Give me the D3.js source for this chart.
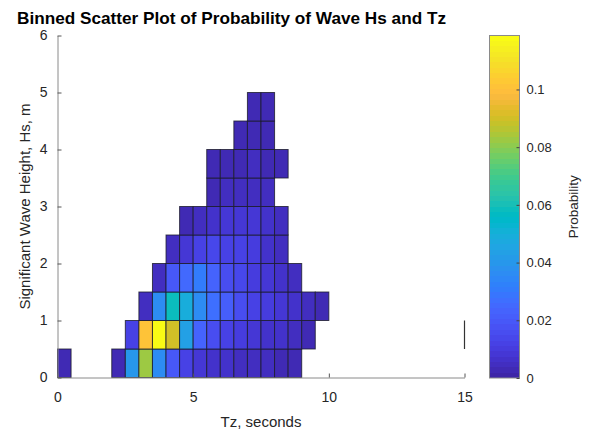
<!DOCTYPE html>
<html>
<head>
<meta charset="utf-8">
<script src="https://cdn.jsdelivr.net/npm/d3@7"></script>
<style>
  html, body { margin: 0; padding: 0; background: #fff; }
  svg { display: block; font-family: "Liberation Sans", Arial, Helvetica, sans-serif; }
</style>
</head>
<body>
<svg id="chart" width="593" height="432"></svg>
<script>
// ---------------- data ----------------
const binWidth = 0.5;            // Tz bin width, seconds
const binHeight = 0.5;           // Hs bin height, m
const rowHs = [0, 0.5, 1, 1.5, 2, 2.5, 3, 3.5, 4, 4.5];       // lower Hs edge of each row
const rowTzStart = [2, 2.5, 3, 3.5, 4, 4.5, 5.5, 5.5, 6.5, 7]; // lower Tz edge of first bin in each row
const rowProb = [
  [0.003, 0.040, 0.083, 0.036, 0.020, 0.012, 0.008, 0.007, 0.006, 0.005, 0.005, 0.004, 0.003, 0.002],
  [0.012, 0.101, 0.1187, 0.090, 0.043, 0.024, 0.016, 0.012, 0.010, 0.008, 0.007, 0.006, 0.005, 0.003],
  [0.005, 0.036, 0.058, 0.050, 0.037, 0.026, 0.022, 0.015, 0.012, 0.010, 0.008, 0.006, 0.004, 0.003],
  [0.005, 0.019, 0.025, 0.030, 0.023, 0.015, 0.013, 0.011, 0.009, 0.007, 0.005],
  [0.004, 0.008, 0.012, 0.013, 0.012, 0.012, 0.010, 0.007, 0.005],
  [0.003, 0.005, 0.006, 0.008, 0.008, 0.009, 0.006, 0.004],
  [0.003, 0.004, 0.005, 0.005, 0.004],
  [0.002, 0.003, 0.003, 0.004, 0.003, 0.002],
  [0.002, 0.003, 0.003],
  [0.002, 0.002]
];
// isolated bins outside the main block
const extraTz = [0];
const extraHs = [0];
const extraProb = [0.002];
// zero-width bin at the right edge of the Tz range
const edgeTz = [15];
const edgeHs = [0.5];

const xTicks = [0, 5, 10, 15];
const yTicks = [0, 1, 2, 3, 4, 5, 6];
const cTicks = [0, 0.02, 0.04, 0.06, 0.08, 0.1];
const xDomain = [0, 15];
const yDomain = [0, 6];

const titleText = "Binned Scatter Plot of Probability of Wave Hs and Tz";
const xLabel = "Tz, seconds";
const yLabel = "Significant Wave Height, Hs, m";
const cLabel = "Probability";

// MATLAB parula colormap (64 entries)
const parula = [[0.2422,0.1504,0.6603],[0.2504,0.1650,0.7076],[0.2578,0.1818,0.7511],[0.2647,0.1978,0.7952],[0.2706,0.2147,0.8364],[0.2751,0.2342,0.8710],[0.2783,0.2559,0.8991],[0.2803,0.2782,0.9221],[0.2813,0.3006,0.9414],[0.2810,0.3228,0.9579],[0.2795,0.3447,0.9717],[0.2760,0.3667,0.9829],[0.2699,0.3892,0.9906],[0.2602,0.4123,0.9952],[0.2440,0.4358,0.9988],[0.2206,0.4603,0.9973],[0.1963,0.4847,0.9892],[0.1834,0.5074,0.9798],[0.1786,0.5289,0.9682],[0.1764,0.5499,0.9520],[0.1687,0.5703,0.9359],[0.1540,0.5902,0.9218],[0.1460,0.6091,0.9079],[0.1380,0.6276,0.8973],[0.1248,0.6459,0.8883],[0.1113,0.6635,0.8763],[0.0952,0.6798,0.8598],[0.0689,0.6948,0.8394],[0.0297,0.7082,0.8163],[0.0036,0.7203,0.7917],[0.0067,0.7312,0.7660],[0.0433,0.7411,0.7394],[0.0964,0.7500,0.7120],[0.1408,0.7584,0.6842],[0.1717,0.7670,0.6554],[0.1938,0.7758,0.6251],[0.2161,0.7843,0.5923],[0.2470,0.7918,0.5567],[0.2906,0.7973,0.5188],[0.3406,0.8008,0.4789],[0.3909,0.8029,0.4354],[0.4456,0.8024,0.3909],[0.5044,0.7993,0.3480],[0.5616,0.7942,0.3045],[0.6174,0.7876,0.2612],[0.6720,0.7793,0.2227],[0.7242,0.7698,0.1910],[0.7738,0.7598,0.1646],[0.8203,0.7498,0.1535],[0.8634,0.7406,0.1596],[0.9035,0.7330,0.1774],[0.9393,0.7288,0.2100],[0.9728,0.7298,0.2394],[0.9956,0.7434,0.2371],[0.9970,0.7659,0.2199],[0.9952,0.7893,0.2028],[0.9892,0.8136,0.1885],[0.9786,0.8386,0.1766],[0.9676,0.8639,0.1643],[0.9610,0.8890,0.1537],[0.9597,0.9135,0.1423],[0.9628,0.9373,0.1265],[0.9691,0.9606,0.1064],[0.9769,0.9839,0.0805]];

// ---------------- build table ----------------
const cells = [];
rowHs.forEach((hs, r) => {
  rowProb[r].forEach((p, i) => {
    cells.push({ tz0: rowTzStart[r] + i * binWidth, tz1: rowTzStart[r] + (i + 1) * binWidth, hs0: hs, hs1: hs + binHeight, p });
  });
});
extraTz.forEach((tz, i) => cells.push({ tz0: tz, tz1: tz + binWidth, hs0: extraHs[i], hs1: extraHs[i] + binHeight, p: extraProb[i] }));

const pMax = d3.max(cells, d => d.p);
const parulaColors = parula.map(c => d3.rgb(c[0] * 255, c[1] * 255, c[2] * 255));
const parulaInterp = t => parulaColors[Math.max(0, Math.min(63, Math.floor(t * 64)))].formatHex();
const color = d3.scaleSequential(parulaInterp).domain([0, pMax]);

// ---------------- layout ----------------
const svg = d3.select("#chart");
const plot = { left: 57.5, right: 464.5, top: 35.5, bottom: 377.5 };
const cbar = { left: 489.5, right: 519.5, top: 35.5, bottom: 378 };
const axisColor = "#8a8a8a";
const textColor = "#262626";

const x = d3.scaleLinear().domain(xDomain).range([plot.left, plot.right]);
const y = d3.scaleLinear().domain(yDomain).range([plot.bottom, plot.top]);

// tiles
svg.append("g").selectAll("rect").data(cells).join("rect")
  .attr("x", d => x(d.tz0))
  .attr("y", d => y(d.hs1))
  .attr("width", d => x(d.tz1) - x(d.tz0))
  .attr("height", d => y(d.hs0) - y(d.hs1))
  .attr("fill", d => color(d.p))
  .attr("stroke", "#1c1c2a")
  .attr("stroke-opacity", 0.8)
  .attr("stroke-width", 1);

// zero-width edge bin
svg.append("g").selectAll("line").data(edgeTz).join("line")
  .attr("x1", d => x(d)).attr("x2", d => x(d))
  .attr("y1", (d, i) => y(edgeHs[i])).attr("y2", (d, i) => y(edgeHs[i] + binHeight))
  .attr("stroke", "#333").attr("stroke-width", 1.2);

// axes
const xAxis = d3.axisBottom(x).tickValues(xTicks).tickSizeInner(-4).tickSizeOuter(0).tickPadding(10).tickFormat(d3.format("d"));
const yAxis = d3.axisLeft(y).tickValues(yTicks).tickSizeInner(-4).tickSizeOuter(0).tickPadding(10).tickFormat(d3.format("d"));

const gx = svg.append("g").attr("transform", `translate(0,${plot.bottom})`).call(xAxis);
const gy = svg.append("g").attr("transform", `translate(${plot.left},0)`).call(yAxis);
[gx, gy].forEach(g => {
  g.select(".domain").attr("stroke", axisColor).attr("stroke-width", 1);
  g.selectAll(".tick line").attr("stroke", "#555");
  g.selectAll(".tick text").attr("fill", textColor).attr("font-size", 14).attr("font-family", "Liberation Sans, Arial, sans-serif");
});
gx.selectAll(".tick text").attr("dy", "1em");

// title & labels
svg.append("text").attr("x", 17).attr("y", 24).attr("font-size", 16.5).attr("font-weight", "bold")
  .attr("textLength", 429).attr("lengthAdjust", "spacingAndGlyphs")
  .attr("fill", "#000").text(titleText);
svg.append("text").attr("x", (plot.left + plot.right) / 2).attr("y", 427).attr("text-anchor", "middle")
  .attr("font-size", 15).attr("fill", textColor).text(xLabel);
svg.append("text").attr("transform", `translate(30,${(plot.top + plot.bottom) / 2}) rotate(-90)`)
  .attr("text-anchor", "middle").attr("font-size", 15).attr("fill", textColor).text(yLabel);

// colorbar
const defs = svg.append("defs");
const grad = defs.append("linearGradient").attr("id", "cbgrad").attr("x1", 0).attr("x2", 0).attr("y1", 1).attr("y2", 0);
parulaColors.forEach((c, i) => {
  grad.append("stop").attr("offset", i / 64).attr("stop-color", c.formatHex());
  grad.append("stop").attr("offset", (i + 1) / 64).attr("stop-color", c.formatHex());
});
svg.append("rect").attr("x", cbar.left).attr("y", cbar.top)
  .attr("width", cbar.right - cbar.left).attr("height", cbar.bottom - cbar.top)
  .attr("fill", "url(#cbgrad)").attr("stroke", axisColor).attr("stroke-width", 1);

const cy = d3.scaleLinear().domain([0, pMax]).range([cbar.bottom, cbar.top]);
const cAxis = d3.axisRight(cy).tickValues(cTicks).tickSizeInner(-3).tickSizeOuter(0).tickPadding(7)
  .tickFormat(d => d === 0 ? "0" : d3.format("~g")(d));
const gc = svg.append("g").attr("transform", `translate(${cbar.right},0)`).call(cAxis);
gc.select(".domain").remove();
gc.selectAll(".tick line").attr("stroke", "#444");
gc.selectAll(".tick text").attr("fill", textColor).attr("font-size", 13);

svg.append("text").attr("transform", `translate(578,${(cbar.top + cbar.bottom) / 2}) rotate(-90)`)
  .attr("text-anchor", "middle").attr("font-size", 13.5).attr("fill", textColor).text(cLabel);
</script>
</body>
</html>
